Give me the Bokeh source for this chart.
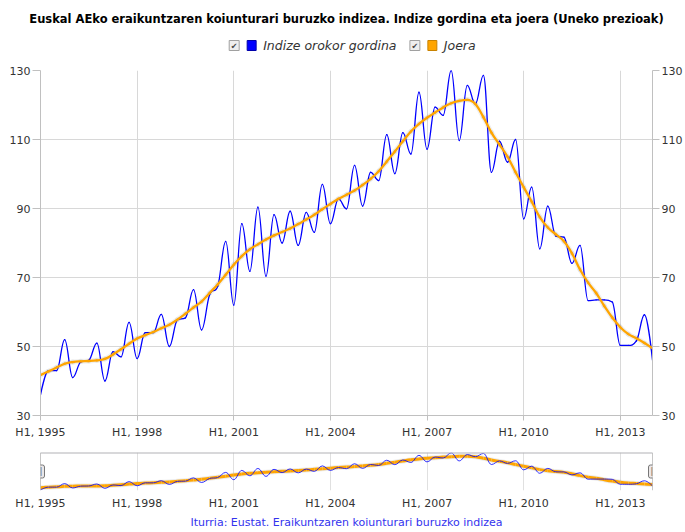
import numpy as np
from bokeh.plotting import figure
from bokeh.layouts import column
from bokeh.models import (Range1d, LinearAxis, FixedTicker, ColumnDataSource, Span,
                          Title, Label)
from bokeh.core.properties import value
from bokeh.embed import file_html
from bokeh.resources import INLINE

# ---------------- data ----------------
FIRST_YEAR = 1995.0
PERIOD = 0.25  # quarterly observations

raw_index = [36, 43, 43, 52, 41, 45.5, 46, 51, 40, 48.5, 47, 57, 46.5, 54, 54, 59.3,
             50, 57.7, 58.3, 66.5, 54.8, 65, 67.4, 80.5, 62, 85.6, 71.8, 90.4, 70.4, 88.2,
             80, 89.2, 79.3, 88.9, 83.1, 97, 85.6, 92.8, 89.9, 102.5, 90.7, 100.5, 98.1,
             111.4, 100.1, 112, 105.8, 123.7, 107.2, 119.4, 117, 130, 109.7, 125.7, 120.3,
             128.6, 100.5, 109.5, 103.4, 110, 87, 96.2, 78.3, 90.7, 82, 81.7, 74.1, 79.3,
             63.3, 63.5, 63.5, 62.9, 50.3, 50.3, 51.6, 59.2, 46]

trend = [41.7, 42.8, 43.9, 45, 45.5, 45.7, 45.8, 46, 46.4, 47.7, 49.2, 50.8, 52.3, 53.3,
         54.2, 55.3, 56.3, 57.8, 59.5, 61.3, 63, 65.5, 68, 70.8, 73.7, 76.2, 78.2, 79.6,
         81, 82.2, 83.2, 84.2, 85.5, 86.8, 88.2, 89.8, 91.3, 92.8, 94, 95.2, 96.8, 98.6,
         100.8, 103.6, 106.5, 109.5, 112.3, 114.5, 116.3, 117.8, 119.3, 120.5, 121.2, 121.5,
         120.3, 116.5, 112, 108.5, 105, 100.5, 96.2, 92, 87.5, 84.5, 82.5, 80.5, 77, 72.3,
         68.5, 65.5, 61.8, 58.4, 55.6, 53.6, 52.4, 51, 49.5]

tick_years = [1995, 1998, 2001, 2004, 2007, 2010, 2013]
tick_labels = ["H1, 1995", "H1, 1998", "H1, 2001", "H1, 2004", "H1, 2007", "H1, 2010", "H1, 2013"]
y_ticks = [30, 50, 70, 90, 110, 130]
series_names = ["Indize orokor gordina", "Joera"]
series_colors = ["#0000FF", "#FFA500"]
title_text = "Euskal AEko eraikuntzaren koiunturari buruzko indizea. Indize gordina eta joera (Uneko prezioak)"
source_text = "Iturria: Eustat. Eraikuntzaren koiunturari buruzko indizea"

x_vals = [FIRST_YEAR + PERIOD * i for i in range(len(raw_index))]
X_START, X_END = x_vals[0], x_vals[-1]

FONT = "DejaVu Sans"
GRID = "#D8D8D8"
AXIS = "#C0C0C0"
LABEL = "#333333"
W = 685
BORDER_L, BORDER_R = 40, 32


def spline_source(xs, ys, smoothing=1.5):
    """Cubic bezier control points in the style of a Highcharts 'spline' series."""
    n = len(xs)
    denom = smoothing + 1
    lcx, lcy = list(xs), list(ys)
    rcx, rcy = list(xs), list(ys)
    for i in range(1, n - 1):
        px, py = xs[i], ys[i]
        lx, ly = xs[i - 1], ys[i - 1]
        nx, ny = xs[i + 1], ys[i + 1]
        a = (smoothing * px + lx) / denom
        b = (smoothing * py + ly) / denom
        c = (smoothing * px + nx) / denom
        d = (smoothing * py + ny) / denom
        if c != a:
            corr = ((d - b) * (c - px)) / (c - a) + py - d
            b += corr
            d += corr
        if b > ly and b > py:
            b = max(ly, py); d = 2 * py - b
        elif b < ly and b < py:
            b = min(ly, py); d = 2 * py - b
        if d > ny and d > py:
            d = max(ny, py); b = 2 * py - d
        elif d < ny and d < py:
            d = min(ny, py); b = 2 * py - d
        lcx[i], lcy[i], rcx[i], rcy[i] = a, b, c, d
    return ColumnDataSource(dict(
        x0=xs[:-1], y0=ys[:-1], x1=xs[1:], y1=ys[1:],
        cx0=rcx[:-1], cy0=rcy[:-1], cx1=lcx[1:], cy1=lcy[1:]))


src_raw = spline_source(x_vals, raw_index)
src_trend = spline_source(x_vals, trend)
bz = dict(x0="x0", y0="y0", x1="x1", y1="y1", cx0="cx0", cy0="cy0", cx1="cx1", cy1="cy1")

# ---------------- header (title + legend) ----------------
# frame covers page x 40..653 and page y 30..62; ranges are in page pixels
hdr = figure(width=W, height=62, x_range=Range1d(BORDER_L, W - BORDER_R), y_range=Range1d(62, 30),
             output_backend="svg", toolbar_location=None,
             min_border_left=BORDER_L, min_border_right=BORDER_R, min_border_top=30,
             min_border_bottom=0, x_axis_type=None, y_axis_type=None)
hdr.grid.visible = False
hdr.outline_line_color = None
ttl = Title(text=title_text, align="center", offset=3.5, standoff=9,
            text_font=FONT, text_font_size="11.5px", text_font_style="bold", text_color="#000000")
hdr.add_layout(ttl, "above")
hdr.rect(x=[234, 415], y=[45, 45], width=10, height=10, fill_color="#EEEEEE",
         line_color="#A0A0A0", line_width=1)
hdr.text(x=[234, 415], y=[45.5, 45.5], text=["\u2714", "\u2714"], text_font=value(FONT),
         text_font_size="8px", text_align="center", text_baseline="middle", text_color="#444444")
hdr.rect(x=[251.5, 432.5], y=[45, 45], width=9, height=10, fill_color=series_colors,
         line_color=["#0000AA", "#C88200"], line_width=1)
hdr.text(x=[263, 444], y=[45, 45], text=series_names, text_font=value(FONT),
         text_font_size="12.5px", text_font_style="italic", text_align="left",
         text_baseline="middle", text_color=LABEL)

# ---------------- main chart ----------------
p = figure(width=W, height=383, x_range=Range1d(X_START, X_END), y_range=Range1d(30, 130),
           output_backend="svg", toolbar_location=None,
           min_border_left=BORDER_L, min_border_right=BORDER_R, min_border_top=8,
           min_border_bottom=30)
p.outline_line_color = None
p.xaxis.ticker = FixedTicker(ticks=tick_years)
p.xaxis.major_label_overrides = {y: l for y, l in zip(tick_years, tick_labels)}
p.yaxis.ticker = FixedTicker(ticks=y_ticks)
right = LinearAxis(ticker=FixedTicker(ticks=y_ticks))
p.add_layout(right, "right")
for ax in p.xaxis + p.yaxis:
    ax.minor_tick_line_color = None
    ax.major_tick_in = 0
    ax.major_tick_line_color = AXIS
    ax.axis_line_color = AXIS
    ax.major_label_text_font = FONT
    ax.major_label_text_font_size = "11px"
    ax.major_label_text_color = LABEL
p.xaxis.major_tick_out = 5
p.xaxis.major_label_standoff = 5
p.yaxis[0].major_tick_out = 8
p.yaxis[0].major_label_standoff = 2
right.major_tick_out = 7
right.major_label_standoff = 2
p.xgrid.grid_line_color = GRID
p.ygrid.grid_line_color = GRID

p.bezier(source=src_raw, line_color=series_colors[0], line_width=1.3, line_cap="round", **bz)
p.bezier(source=src_trend, line_color="#000000", line_alpha=0.06, line_width=5, line_cap="round", **bz)
p.bezier(source=src_trend, line_color=series_colors[1], line_width=2.3, line_cap="round", **bz)

# ---------------- navigator + source ----------------
NAV_Y = (34.5, 131)
nav = figure(width=W, height=87, x_range=Range1d(X_START, X_END), y_range=Range1d(*NAV_Y),
             output_backend="svg", toolbar_location=None, y_axis_type=None,
             min_border_left=BORDER_L, min_border_right=BORDER_R,
             min_border_top=7, min_border_bottom=42)
nav.outline_line_color = None
nav.xaxis.ticker = FixedTicker(ticks=tick_years)
nav.xaxis.major_label_overrides = {y: l for y, l in zip(tick_years, tick_labels)}
nav.xaxis.minor_tick_line_color = None
nav.xaxis.major_tick_line_color = None
nav.xaxis.major_tick_out = 0
nav.xaxis.major_tick_in = 0
nav.xaxis.axis_line_color = None
nav.xaxis.major_label_standoff = 6
nav.xaxis.major_label_text_font = FONT
nav.xaxis.major_label_text_font_size = "11px"
nav.xaxis.major_label_text_color = LABEL
nav.xgrid.grid_line_color = "#E0E0E0"
nav.bezier(source=src_trend, line_color="#000000", line_alpha=0.08, line_width=5, **bz)
nav.bezier(source=src_trend, line_color=series_colors[1], line_width=3, **bz)
nav.bezier(source=src_raw, line_color=series_colors[0], line_width=1, line_alpha=0.8, **bz)
nav.segment(x0=[X_START], y0=[NAV_Y[1]], x1=[X_END], y1=[NAV_Y[1]],
            line_color="#B2B1B6", line_width=2)
for xe in (X_START, X_END):
    nav.add_layout(Span(location=xe, dimension="height", line_color="#909090", line_width=1))
mid = (NAV_Y[0] + NAV_Y[1]) / 2
for xe in (X_START, X_END):
    nav.add_layout(Label(x=xe, y=mid, text="\u2016", text_font=FONT, text_font_size="8px",
                         text_color="#666666", text_align="center", text_baseline="middle",
                         background_fill_color="#EBE7E8", border_line_color="#777777",
                         padding=2, border_radius=2))
src_title = Title(text=source_text, align="center", offset=4.5, standoff=3,
                  text_font=FONT, text_font_size="11px", text_font_style="normal",
                  text_color="#3333EE")
nav.add_layout(src_title, "below")

layout = column(hdr, p, nav, spacing=0)
open("out.html", "w").write(file_html(layout, INLINE))
